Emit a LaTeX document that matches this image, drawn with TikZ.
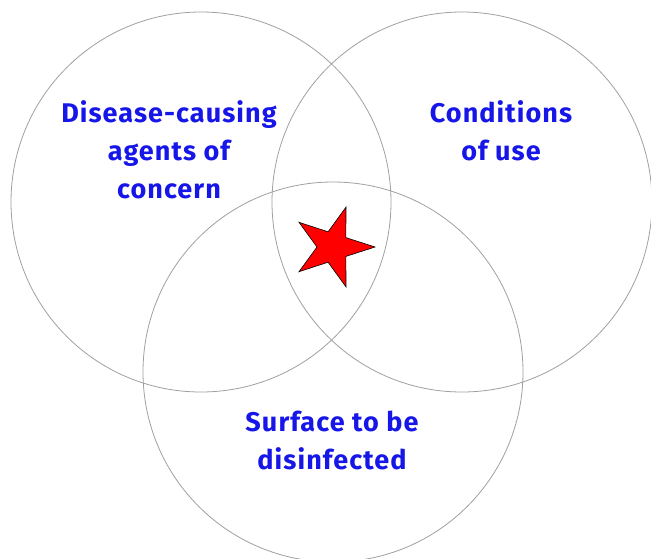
\documentclass[tikz,border=0pt]{standalone}
\usepackage{fontspec}
\setmainfont{Fira Sans}
\newfontfamily\lblfont{Fira Sans}[LetterSpace=4]
\definecolor{txtblue}{RGB}{22,22,232}
\definecolor{ringgray}{RGB}{160,160,160}
\begin{document}
\begin{tikzpicture}[x=1pt,y=-1pt,
  ring/.style={draw=ringgray,line width=0.8pt},
  lbl/.style={text=txtblue,align=center,font=\lblfont\fontsize{27}{38}\selectfont\bfseries,inner sep=0pt},
  starfill/.style={fill=red,draw=black,line width=0.6pt,line join=miter}]
\useasboundingbox (0,0) rectangle (651,558);
\fill[white] (0,0) rectangle (651,558);
\draw[ring] (201,202) circle (190);
\draw[ring] (462,202) circle (190);
\draw[ring] (333,372) circle (190);
\path[starfill] (375,247) -- (345.9,237.6) -- (346,207.1) -- (328.1,231.8) -- (299,222.3)
  -- (317,247) -- (299,271.7) -- (328.1,262.2) -- (346,286.9) -- (345.9,256.4) -- cycle;
\node[lbl] (agents) at (169,150) {Disease-causing\\agents of\\concern};
\node[lbl] (use) at (501,131) {Conditions\\of use};
\node[lbl] (surface) at (332,440) {Surface to be\\disinfected};
\end{tikzpicture}
\end{document}
